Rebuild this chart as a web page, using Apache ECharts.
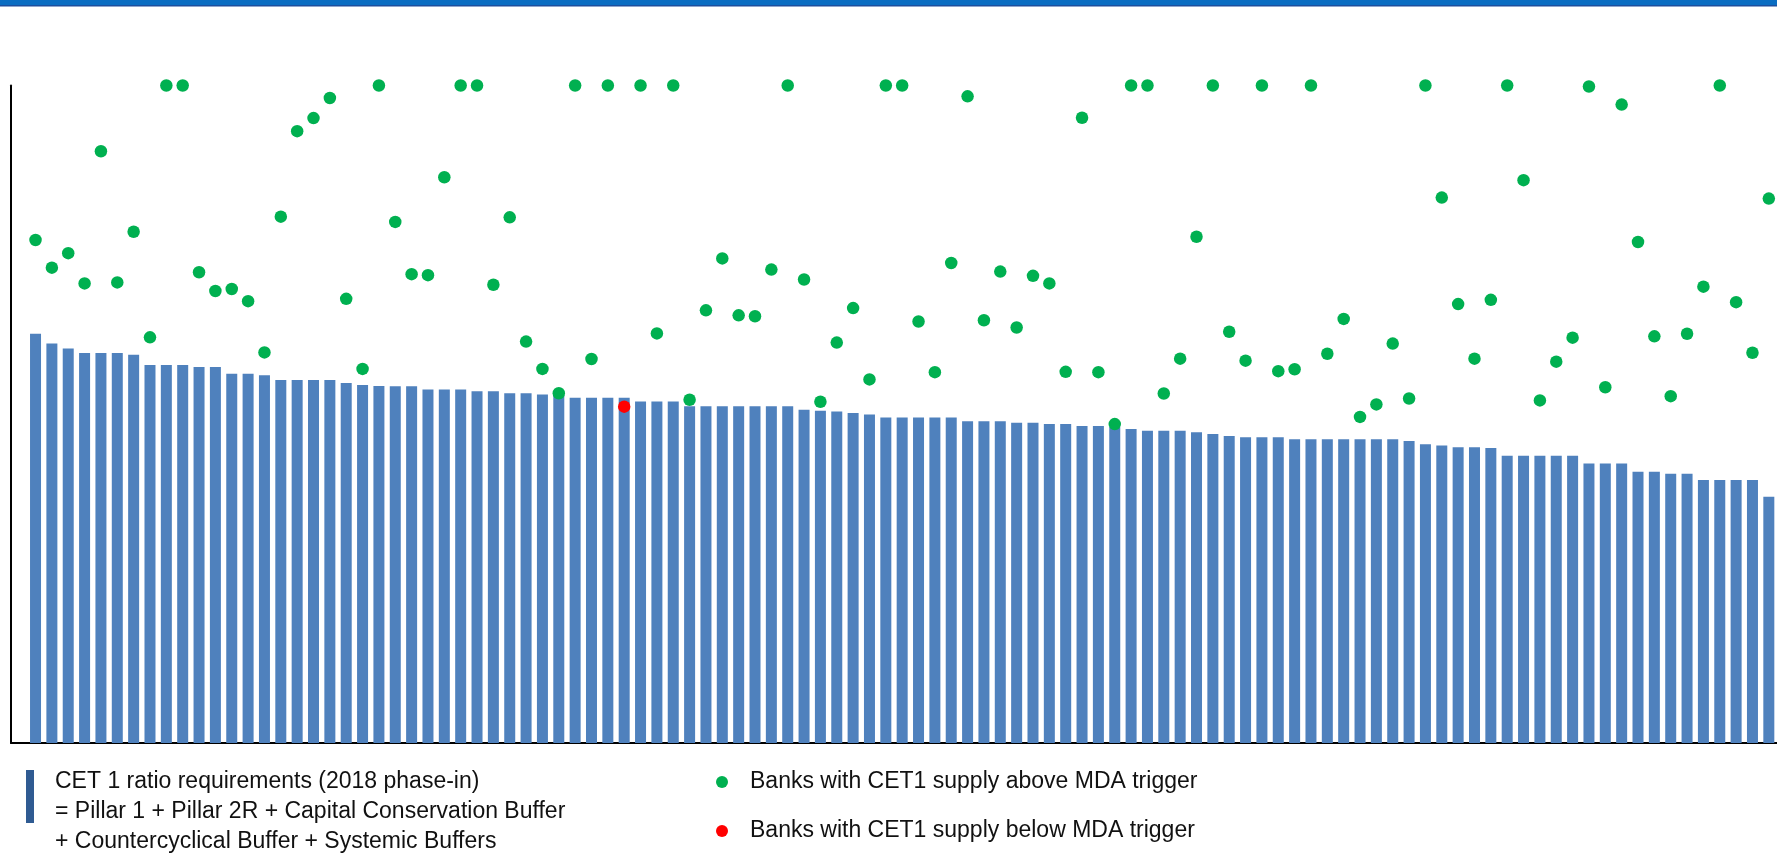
<!DOCTYPE html>
<html>
<head>
<meta charset="utf-8">
<script src="https://cdn.jsdelivr.net/npm/echarts@6/dist/echarts.min.js"></script>
<style>
html,body{margin:0;padding:0;background:#fff;}
#chart{width:1777px;height:867px;}
</style>
</head>
<body>
<div id="chart"></div>
<script>
// ---- data (CET1, % of RWA) ----
const banks = Array.from({length: 107}, (_, i) => 'Bank ' + (i + 1));

const requirement = [
  12.45, 12.15, 12.00, 11.86, 11.86, 11.86, 11.81, 11.50, 11.50, 11.50,
  11.44, 11.44, 11.23, 11.23, 11.19, 11.04, 11.04, 11.04, 11.04, 10.95,
  10.89, 10.86, 10.85, 10.85, 10.75, 10.75, 10.75, 10.70, 10.70, 10.64,
  10.64, 10.60, 10.60, 10.50, 10.50, 10.50, 10.50, 10.39, 10.39, 10.39,
  10.24, 10.24, 10.24, 10.24, 10.24, 10.24, 10.24, 10.14, 10.11, 10.08,
  10.04, 9.99, 9.90, 9.90, 9.90, 9.90, 9.90, 9.79, 9.79, 9.79,
  9.74, 9.74, 9.70, 9.70, 9.64, 9.64, 9.61, 9.55, 9.50, 9.50,
  9.50, 9.45, 9.40, 9.34, 9.30, 9.30, 9.30, 9.24, 9.24, 9.24,
  9.24, 9.24, 9.24, 9.24, 9.19, 9.09, 9.05, 9.00, 9.00, 8.97,
  8.74, 8.74, 8.74, 8.74, 8.74, 8.50, 8.50, 8.50, 8.25, 8.25,
  8.19, 8.19, 8.00, 8.00, 8.00, 8.00, 7.49
];

const supply = [
  15.30, 14.46, 14.90, 13.98, 18.00, 14.01, 15.55, 12.34, 20.00, 20.00,
  14.32, 13.75, 13.81, 13.44, 11.88, 16.01, 18.61, 19.01, 19.62, 13.51,
  11.38, 20.00, 15.85, 14.26, 14.23, 17.21, 20.00, 20.00, 13.94, 15.99,
  12.21, 11.38, 10.64, 20.00, 11.68, 20.00, 10.23, 20.00, 12.46, 20.00,
  10.44, 13.16, 14.74, 13.01, 12.98, 14.40, 20.00, 14.10, 10.38, 12.18,
  13.23, 11.06, 20.00, 20.00, 12.82, 11.28, 14.60, 19.67, 12.86, 14.34,
  12.64, 14.21, 13.98, 11.29, 19.02, 11.28, 9.70, 20.00, 20.00, 10.63,
  11.69, 15.40, 20.00, 12.51, 11.63, 20.00, 11.31, 11.37, 20.00, 11.84,
  12.90, 9.92, 10.30, 12.15, 10.48, 20.00, 16.59, 13.35, 11.69, 13.48,
  20.00, 17.12, 10.42, 11.60, 12.33, 19.97, 10.82, 19.42, 15.24, 12.37,
  10.55, 12.45, 13.88, 20.00, 13.41, 11.87, 16.56
];

const yMax = 20;

const nameReq = 'CET 1 ratio requirements (2018 phase-in)';
const reqLines = [
  'CET 1 ratio requirements (2018 phase-in)',
  '= Pillar 1 + Pillar 2R + Capital Conservation Buffer',
  '+ Countercyclical Buffer + Systemic Buffers'
];
const nameAbove = 'Banks with CET1 supply above MDA trigger';
const nameBelow = 'Banks with CET1 supply below MDA trigger';

// ---- build ----
const above = supply.map((v, i) => v >= requirement[i] ? v : null);
const below = supply.map((v, i) => v < requirement[i] ? v : null);

// leading empty slot keeps the gap between the y axis and the first bar
const cats = [''].concat(banks);
const pad = arr => [null].concat(arr);

const FONT = '"Liberation Sans", Arial, Helvetica, sans-serif';
const chart = echarts.init(document.getElementById('chart'), null, {renderer: 'canvas'});

chart.setOption({
  animation: false,
  backgroundColor: '#ffffff',
  textStyle: {fontFamily: FONT},
  graphic: [
    {type: 'rect', left: 0, top: 0, shape: {width: 1777, height: 5}, style: {fill: '#0A6DC2'}, silent: true},
    {type: 'rect', left: 0, top: 5, shape: {width: 1777, height: 1.5}, style: {fill: '#1D4F9E'}, silent: true}
  ],
  grid: {left: 11, top: 85.5, width: 1770, height: 657.5, containLabel: false},
  xAxis: {
    type: 'category',
    data: cats,
    boundaryGap: true,
    axisLine: {show: true, lineStyle: {color: '#000', width: 2}},
    axisTick: {show: false},
    axisLabel: {show: false},
    splitLine: {show: false}
  },
  yAxis: {
    type: 'value',
    min: 0,
    max: yMax,
    axisLine: {show: true, lineStyle: {color: '#000', width: 2}},
    axisTick: {show: false},
    axisLabel: {show: false},
    splitLine: {show: false}
  },
  legend: [
    {
      data: [nameReq],
      selectedMode: false,
      left: 26,
      top: 736.5,
      padding: 0,
      icon: 'rect',
      itemWidth: 8,
      itemHeight: 53,
      itemStyle: {color: '#2F5B92'},
      // leading empty line lowers the text block relative to the marker
      formatter: () => '\n' + reqLines.join('\n'),
      textStyle: {fontFamily: FONT, fontSize: 23, lineHeight: 30, color: '#111', padding: [0, 0, 0, 16]}
    },
    {
      data: [nameAbove, nameBelow],
      selectedMode: false,
      orient: 'vertical',
      left: 716,
      top: 767,
      padding: 0,
      itemGap: 19,
      icon: 'circle',
      itemWidth: 12,
      itemHeight: 12,
      textStyle: {fontFamily: FONT, fontSize: 23, lineHeight: 30, color: '#111', padding: [0, 0, 0, 17]}
    }
  ],
  series: [
    {
      name: nameReq,
      type: 'bar',
      data: pad(requirement),
      barWidth: 11,
      itemStyle: {color: '#4F81BD'},
      silent: true
    },
    {
      name: nameAbove,
      type: 'scatter',
      data: pad(above),
      symbol: 'circle',
      symbolSize: 12.5,
      clip: false,
      itemStyle: {color: '#00B050', opacity: 1},
      z: 3
    },
    {
      name: nameBelow,
      type: 'scatter',
      data: pad(below),
      symbol: 'circle',
      symbolSize: 12.5,
      clip: false,
      itemStyle: {color: '#FF0000', opacity: 1},
      z: 4
    }
  ]
});
</script>
</body>
</html>
